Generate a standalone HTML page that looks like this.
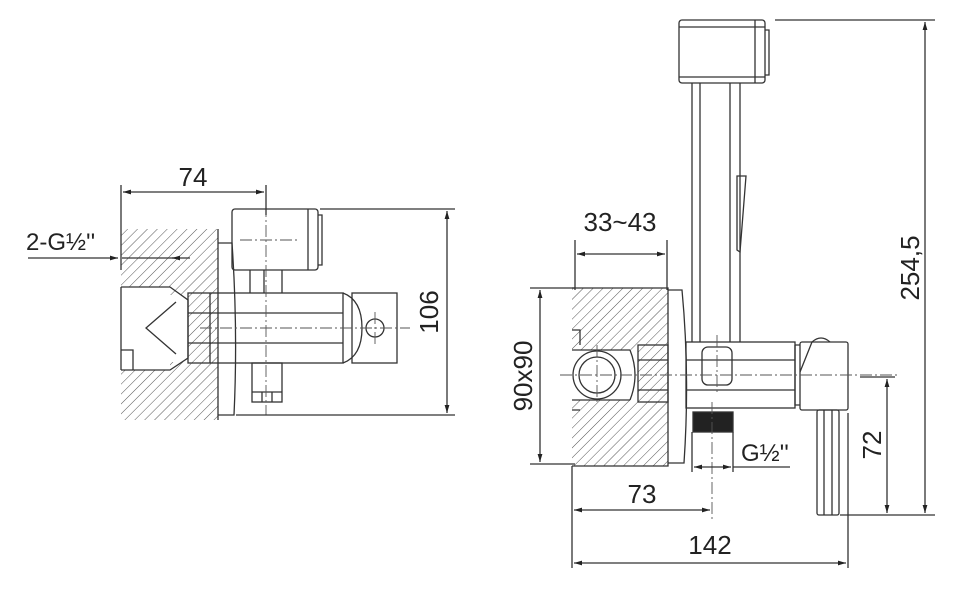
<!DOCTYPE html>
<html><head><meta charset="utf-8"><style>
html,body{margin:0;padding:0;background:#fff;}
svg{display:block;}
text{font-family:"Liberation Sans",sans-serif;fill:#222;}
</style></head><body>
<svg width="970" height="599" viewBox="0 0 970 599" xmlns="http://www.w3.org/2000/svg">
<defs>
<pattern id="h" width="7" height="7" patternUnits="userSpaceOnUse" patternTransform="rotate(45)">
<line x1="0" y1="0" x2="0" y2="7" stroke="#555" stroke-width="1"/>
</pattern>
<marker id="a" viewBox="0 0 10 10" refX="10" refY="5" markerWidth="8" markerHeight="8" orient="auto-start-reverse" markerUnits="userSpaceOnUse">
<path d="M0,2 L10,5 L0,8 z" fill="#222"/>
</marker>
</defs>
<g fill="none" stroke="#333" stroke-width="1.3">
<!-- ===== LEFT ===== -->
<path d="M121,229 H218 V420 H121 V370 H170 V362 L188,362 V295 L170,295 V287 H121 Z" fill="url(#h)" stroke="none"/>
<path d="M218,229 V420"/>
<path d="M121,287 H170 L188,300 V358 L170,370 H121" />
<path d="M121,287 V370"/>
<path d="M176,302 L146,328 L176,354" />
<path d="M121,350 H133 V370"/>
<path d="M218,243 H232 Q238,330 234,415 H218"/>
<rect x="232" y="209" width="86" height="61" rx="3"/>
<path d="M308,209 V270 M318,215 h4 v50 h-4"/>
<path d="M250,270 V293 M264,270 V293 M282,270 V293"/>
<rect x="188" y="293" width="155" height="70"/>
<path d="M188,313 H343 M188,343 H343 M210,293 V363"/>
<path d="M343,293 Q362,300 362,328 Q362,356 343,363"/>
<rect x="352" y="293" width="45" height="70"/>
<circle cx="375" cy="328" r="9"/>
<rect x="252" y="363" width="30" height="39"/>
<path d="M252,392 H282 M262,392 V402 M272,392 V402"/>
<g stroke="#555" stroke-width="0.9" stroke-dasharray="12,3,2,3">
<path d="M266,185 V415"/>
<path d="M200,328 H410"/>
<path d="M240,240 H300"/>
<path d="M375,312 V345"/>
</g>
<path d="M121,185 V270 M266,185 V215"/>
<path d="M123,192 H264" marker-start="url(#a)" marker-end="url(#a)"/>
<path d="M28,258 H118" marker-end="url(#a)"/>
<path d="M122,258 H190"/>
<path d="M180,258 H172" marker-end="url(#a)"/>
<path d="M320,209 H455 M236,415 H455"/>
<path d="M447,211 V413" marker-start="url(#a)" marker-end="url(#a)"/>

<!-- ===== RIGHT ===== -->
<path d="M572,288 H668 V466 H572 V400 H638 V350 H572 Z" fill="url(#h)" stroke="none"/>
<path d="M572,288 H668 V466 H572 M572,350 H630 M572,400 H630"/>
<path d="M630,350 Q640,375 630,400"/>
<circle cx="597" cy="375" r="24" fill="#fff"/>
<circle cx="597" cy="375" r="18"/>
<path d="M572,330 H580 V345 M572,410 H580"/>
<path d="M668,290 H682 Q690,375 684,463 H668"/>
<rect x="638" y="345" width="30" height="57"/>
<path d="M638,360 H668 M638,390 H668"/>
<rect x="686" y="342" width="109" height="66"/>
<path d="M686,360 H795 M686,390 H795"/>
<rect x="702" y="347" width="30" height="38" rx="6"/>
<rect x="800" y="342" width="48" height="68" rx="2"/>
<path d="M795,345 H800 M795,345 V405 H800 M812,342 L800,372 M812,342 q9,-8 18,0"/>
<rect x="817" y="410" width="22" height="105" rx="2"/>
<path d="M824,410 V515 M832,410 V515"/>
<rect x="693" y="412" width="40" height="20" fill="#222"/>
<rect x="679" y="20" width="86" height="63" rx="3"/>
<path d="M679,27 H765 M679,77 H765 M755,20 V83 M765,30 h4 v45 h-4"/>
<path d="M692,83 V342 M700,83 V342 M730,83 V342 M740,83 V342"/>
<path d="M737,176 L746,176 L740,252 L737,250 Z"/>
<g stroke="#555" stroke-width="0.9" stroke-dasharray="12,3,2,3">
<path d="M560,375 H900"/>
<path d="M597,345 V405"/>
<path d="M717,335 V395"/>
<path d="M712,402 V520"/>
</g>
<path d="M575,240 V290 M667,240 V290"/>
<path d="M577,254 H665" marker-start="url(#a)" marker-end="url(#a)"/>
<path d="M530,288 H575 M530,464 H575"/>
<path d="M540,290 V462" marker-start="url(#a)" marker-end="url(#a)"/>
<path d="M692,432 V472 M733,432 V472"/>
<path d="M694,467 H731" marker-start="url(#a)" marker-end="url(#a)"/>
<path d="M733,467 H790"/>
<path d="M572,466 V568"/>
<path d="M574,510 H710" marker-start="url(#a)" marker-end="url(#a)"/>
<path d="M848,413 V568"/>
<path d="M574,563 H846" marker-start="url(#a)" marker-end="url(#a)"/>
<path d="M860,377 H895 M840,515 H935"/>
<path d="M887,379 V513" marker-start="url(#a)" marker-end="url(#a)"/>
<path d="M775,20 H935"/>
<path d="M925,22 V513" marker-start="url(#a)" marker-end="url(#a)"/>
</g>
<g font-size="26">
<text x="193" y="186" text-anchor="middle">74</text>
<text x="26" y="250" font-size="24">2-G½''</text>
<text transform="translate(438,312) rotate(-90)" text-anchor="middle">106</text>
<text x="620" y="231" text-anchor="middle">33~43</text>
<text transform="translate(532,376) rotate(-90)" text-anchor="middle">90x90</text>
<text x="741" y="461" font-size="24">G½''</text>
<text x="642" y="503" text-anchor="middle">73</text>
<text x="710" y="554" text-anchor="middle">142</text>
<text transform="translate(881,445) rotate(-90)" text-anchor="middle">72</text>
<text transform="translate(919,268) rotate(-90)" text-anchor="middle">254,5</text>
</g>
</svg>
</body></html>
